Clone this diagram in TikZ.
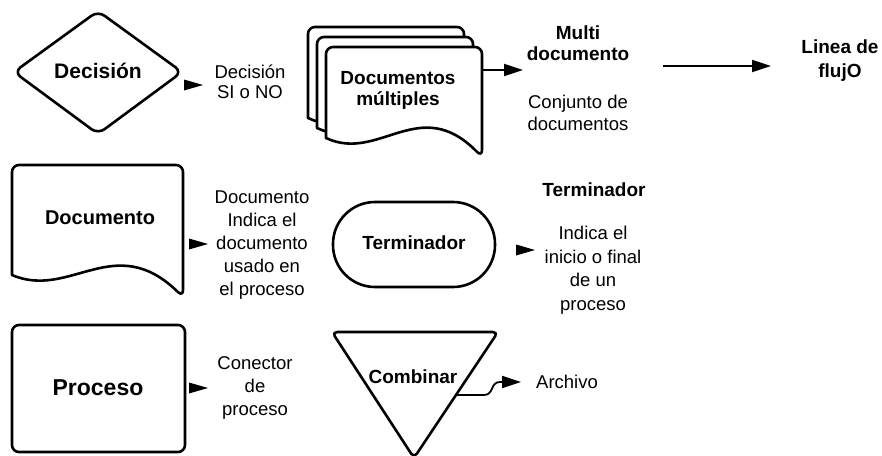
\documentclass[tikz,border=0pt]{standalone}
\usepackage{fontspec}
\setmainfont{Liberation Sans}
\usetikzlibrary{arrows.meta}
\newcommand\docsheet[5]{%
  \filldraw[outl, fill=white, rounded corners=7] (#1,#5) -- (#1,#2) -- (#3,#2) -- (#3,#4) [sharp corners]
    .. controls ({#1+0.6*(#3-#1)},{#5-45}) and ({#1+0.34*(#3-#1)},{#5+25}) .. (#1,#5) -- cycle;}
\begin{document}
\begin{tikzpicture}[x=1pt,y=-1pt,
  outl/.style={line width=2.6pt, line join=round},
  lbl/.style={align=center, font=\fontsize{18.5}{23}\selectfont, inner sep=0pt},
  blbl/.style={align=center, font=\fontsize{19}{21}\selectfont\bfseries, inner sep=0pt},
  atip/.pic={\fill (-19,-5.5) -- (0,0) -- (-19,5.5) -- cycle;},
  flow/.style={line width=1.8pt, -{Triangle[length=19pt,width=12pt]}}
]
\useasboundingbox (0,0) rectangle (882,455);
% Decision
\draw[outl, rounded corners=8] (14,72) -- (98,11) -- (182,72) -- (98,134) -- cycle;
\node[blbl, font=\fontsize{21}{24}\selectfont\bfseries] (dec) at (98,71) {Decisión};
\pic at (203,85) {atip};
\node[lbl, font=\fontsize{18.5}{20}\selectfont] (decl) at (250,82) {Decisión\\SI o NO};
% Multi document
\docsheet{308}{27}{464}{137}{118}
\docsheet{317}{37}{473}{147}{128}
\docsheet{326}{47}{482}{157}{138}
\node[blbl] (md) at (398,90) {Documentos\\múltiples};
\coordinate (mdE) at (482,70);
\coordinate (mdT) at (523,70);
\draw[flow] (mdE) -- (mdT);
\node[blbl] (multi) at (578,43) {Multi\\documento};
\node[lbl, font=\fontsize{18.5}{22}\selectfont] (conj) at (578,113) {Conjunto de\\documentos};
% Flow line
\coordinate (f1) at (663,66);
\coordinate (f2) at (771,66);
\draw[flow] (f1) -- (f2);
\node[blbl, font=\fontsize{19}{24}\selectfont\bfseries] (linea) at (840,61) {Linea de\\flujO};
% Document
\docsheet{12}{165}{183}{297}{275}
\node[blbl, font=\fontsize{20}{24}\selectfont\bfseries] (doc) at (100,218) {Documento};
\pic at (208,244) {atip};
\node[lbl] (docl) at (262,245) {Documento\\Indica el\\documento\\usado en\\el proceso};
% Terminator
\draw[outl, rounded corners=42] (333,202) rectangle (495,287);
\node[blbl] (term) at (414,243) {Terminador};
\pic at (535,250) {atip};
\node[blbl] (terml) at (594,190) {Terminador};
\node[lbl, font=\fontsize{18.5}{23.5}\selectfont] (termd) at (593,270) {Indica el\\inicio o final\\de un\\proceso};
% Process
\draw[outl, rounded corners=7] (12,325) rectangle (185,452);
\node[blbl, font=\fontsize{23}{26}\selectfont\bfseries] (proc) at (98,388) {Proceso};
\pic at (208,388) {atip};
\node[lbl] (procl) at (255,388) {Conector\\de\\proceso};
% Combinar
\draw[outl, rounded corners=5] (332,332) -- (498,332) -- (414,458) -- cycle;
\node[blbl] (comb) at (413,377) {Combinar};
\coordinate (c1) at (456,395);
\coordinate (c2) at (521,382);
\draw[line width=1.8pt, -{Triangle[length=19pt,width=12pt]}] (c1) -- (484,395) .. controls (494,395) and (490,382) .. (500,382) -- (c2);
\node[lbl] (arch) at (567,382) {Archivo};
\end{tikzpicture}
\end{document}
